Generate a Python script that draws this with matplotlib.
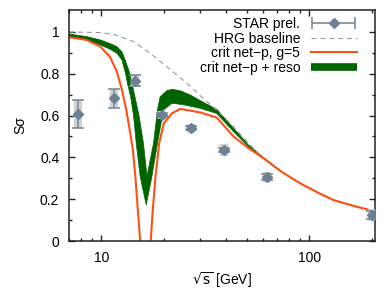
import numpy as np
import matplotlib
matplotlib.use('Agg')
import matplotlib.pyplot as plt
from matplotlib.lines import Line2D
from matplotlib.legend_handler import HandlerErrorbar
from matplotlib.ticker import NullFormatter

plt.rcParams['font.family'] = ['Liberation Sans', 'DejaVu Sans']

# STAR preliminary data
star_e = [7.7, 11.5, 14.5, 19.6, 27, 39, 62.4, 200]
star_s = [0.608, 0.683, 0.767, 0.603, 0.539, 0.435, 0.305, 0.124]
star_stat = [0.065, 0.045, 0.025, 0.01, 0.01, 0.01, 0.015, 0.02]
star_sys = [0.065, 0.045, 0.03, 0.02, 0.02, 0.03, 0.025, 0.03]

# HRG baseline (dashed)
hrg_e = [7.0, 10, 11.7, 14.3, 17.2, 20.7, 25.8, 30, 36, 43.3, 50, 58.2, 70, 90.6, 110, 131, 165, 211]
hrg_s = [1.0, 0.997, 0.986, 0.954, 0.898, 0.834, 0.755, 0.695, 0.625, 0.547, 0.478, 0.411, 0.345,
         0.276, 0.232, 0.196, 0.167, 0.14]

# crit net-p, g=5
crit_e = [7.0, 8.5, 9.9, 11.0, 11.9, 12.6, 13.2, 13.8, 14.2, 14.6, 15.0, 15.4, 16.2,
          17.05, 17.3, 17.7, 18.25, 19.0, 20.0, 21.9, 24.0, 30.0, 36.0, 43.3, 51, 60.3, 74,
          90.6, 110, 131, 165, 211]
crit_s = [0.975, 0.962, 0.93, 0.882, 0.81, 0.72, 0.627, 0.515, 0.435, 0.308, 0.148, 0.0, -0.4,
          -0.05, 0.0, 0.148, 0.31, 0.467, 0.563, 0.611, 0.632, 0.615, 0.59, 0.50, 0.445, 0.396, 0.33,
          0.276, 0.232, 0.196, 0.167, 0.14]

# crit net-p + reso band: upper (right) edge, then lower (left) edge
reso_up_e = [7.0, 8.5, 9.9, 11.0, 11.9, 12.58, 13.04, 13.75, 14.0, 14.6, 15.2, 15.97, 16.6,
             17.84, 18.65, 19.2, 20.7, 21.9, 24.0, 26.8, 29.9, 36, 43.3, 51, 60.3, 74, 90.6,
             110, 131, 165, 211]
reso_up_s = [0.99, 0.978, 0.962, 0.945, 0.93, 0.905, 0.866, 0.80, 0.767, 0.68, 0.60, 0.467, 0.31,
             0.467, 0.627, 0.69, 0.719, 0.726, 0.719, 0.699, 0.672, 0.63, 0.54, 0.46, 0.40, 0.33,
             0.276, 0.232, 0.196, 0.167, 0.14]
reso_lo_e = [7.0, 8.5, 9.9, 11.0, 11.9, 12.58, 13.1, 13.4, 13.85, 14.3, 14.74, 15.40, 16.46,
             17.53, 18.65, 19.93, 21.9, 24.9, 29.9, 36, 43.3, 51, 60.3, 74, 90.6, 110, 131, 165, 211]
reso_lo_s = [0.975, 0.962, 0.938, 0.918, 0.898, 0.866, 0.80, 0.75, 0.69, 0.60, 0.467, 0.308, 0.172,
             0.308, 0.467, 0.627, 0.659, 0.652, 0.635, 0.61, 0.523, 0.452, 0.396, 0.33,
             0.276, 0.232, 0.196, 0.167, 0.14]

star_c = '#6e8094'
orange = '#ff5014'
green = '#006400'

fig = plt.figure(figsize=(3.9, 2.95), dpi=100)
ax = fig.add_axes([0.177, 0.183, 0.785, 0.783])

ax.plot(hrg_e, hrg_s, color='#999999', lw=0.8, dashes=(4.5, 3.5))
ax.fill(reso_up_e + reso_lo_e[::-1], reso_up_s + reso_lo_s[::-1], color=green, lw=0.5, ec=green)
ax.plot(crit_e, crit_s, color=orange, lw=1.5)

ax.errorbar(star_e, star_s, yerr=star_sys, fmt='none', elinewidth=6, ecolor='#cdd1d5', zorder=4)
ax.errorbar(star_e, star_s, yerr=star_stat, fmt='D', ms=5.5, color=star_c, ecolor='#7d8c9b',
            elinewidth=1.2, capsize=4, capthick=1.2, zorder=5)

# dummy for legend (horizontal bar with caps)
dummy = ax.errorbar([np.nan], [np.nan], xerr=[1], fmt='D', ms=5.5, color=star_c, ecolor='#7d8c9b',
                    elinewidth=1.2, capsize=4, capthick=1.2)

ax.set_xscale('log')
ax.set_xlim(7.0, 208)
ax.set_ylim(0, 1.105)

ax.set_xticks([10, 100], labels=['10', '100'])
ax.xaxis.set_minor_formatter(NullFormatter())
ax.set_yticks([0, 0.2, 0.4, 0.6, 0.8, 1.0], labels=['0', '0.2', '0.4', '0.6', '0.8', '1'])
ax.set_yticks(np.arange(0.1, 1.1, 0.2), minor=True)
ax.tick_params(which='both', direction='in', top=True, right=True, colors='#222222',
               labelcolor='black', labelsize=10, width=1.0)
ax.tick_params(which='major', length=4.5, pad=7)
ax.tick_params(which='minor', length=2.3)
for sp in ax.spines.values():
    sp.set_linewidth(1.1)
    sp.set_color('#222222')

ax.set_xlabel(r'$\sqrt{\mathrm{s}}$ [GeV]', fontsize=10, labelpad=4)
ax.set_ylabel('Sσ', fontsize=10, labelpad=9)

handles = [dummy,
           Line2D([], [], color='#999999', lw=0.8, dashes=(4.5, 3.5)),
           Line2D([], [], color=orange, lw=1.5),
           Line2D([], [], color=green, lw=5.5, solid_capstyle='butt')]
labels = ['STAR prel.', 'HRG baseline', 'crit net\u2212p, g=5', 'crit net\u2212p + reso']
ax.legend(handles, labels, loc='upper right', bbox_to_anchor=(0.94, 0.97), frameon=False,
          markerfirst=False, fontsize=10, handlelength=3.3, handletextpad=0.77,
          labelspacing=0.05, borderpad=0, borderaxespad=0,
          handler_map={dummy: HandlerErrorbar(xerr_size=1.55)})

fig.savefig('out.png', dpi=100)
